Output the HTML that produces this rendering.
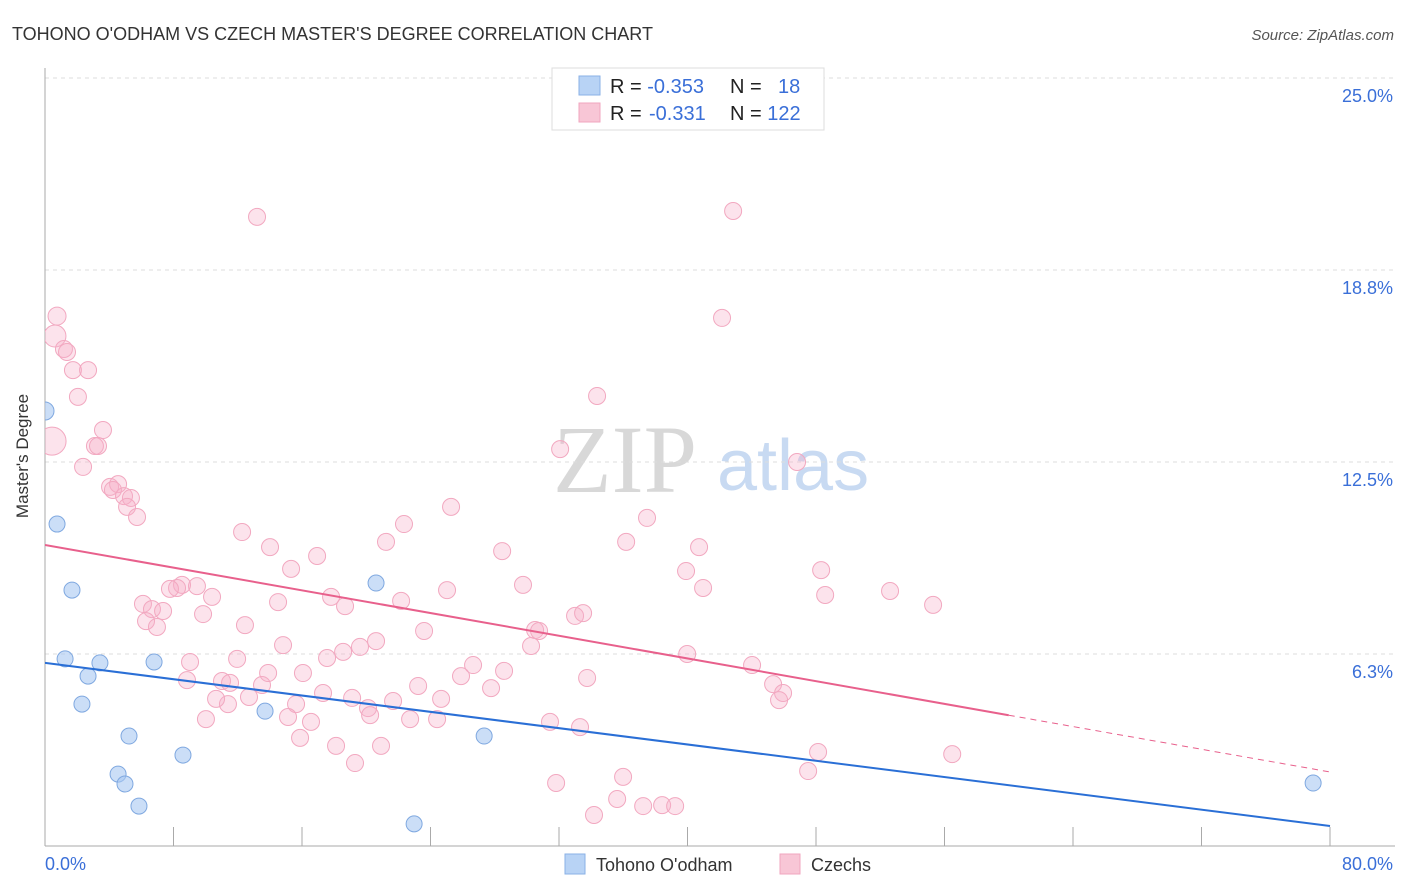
<!DOCTYPE html>
<html><head><meta charset="utf-8"><style>
body{margin:0;background:#fff;font-family:"Liberation Sans",sans-serif;}
svg{display:block}
</style></head><body>
<svg id="chart" width="1406" height="892" xmlns="http://www.w3.org/2000/svg">
<text x="12" y="40" font-size="18" fill="#333">TOHONO O'ODHAM VS CZECH MASTER'S DEGREE CORRELATION CHART</text>
<text x="1394" y="40" font-size="15" fill="#555" font-style="italic" text-anchor="end">Source: ZipAtlas.com</text>
<g>
<text x="553" y="492" font-size="96" font-family="Liberation Serif,serif" fill="#d8d8d8">ZIP</text>
<text x="717" y="490" font-size="72" fill="#c8daf2">atlas</text>
</g>
<g id="grid"></g>
<g id="axes"></g>
<g id="marks"></g>
<text x="28" y="456" font-size="17" fill="#333" text-anchor="middle" transform="rotate(-90 28 456)">Master's Degree</text>
<g>
<rect x="552" y="68" width="272" height="62" fill="#fff" stroke="#ddd"/>
<rect x="579" y="76" width="21" height="19" fill="#b8d3f5" stroke="#8ab0e6"/>
<rect x="579" y="103" width="21" height="19" fill="#f8c6d6" stroke="#f0a6bf"/>
<text x="610" y="93" font-size="20" fill="#222">R = <tspan fill="#3a6fd8">-0.353</tspan></text>
<text x="730" y="93" font-size="20" fill="#222">N = <tspan x="778" fill="#3a6fd8">18</tspan></text>
<text x="610" y="120" font-size="20" fill="#222">R = <tspan x="649" fill="#3a6fd8">-0.331</tspan></text>
<text x="730" y="120" font-size="20" fill="#222">N = <tspan fill="#3a6fd8">122</tspan></text>
</g>
<g>
<rect x="565" y="854" width="20" height="20" fill="#b8d3f5" stroke="#8ab0e6"/>
<text x="596" y="871" font-size="18" fill="#333">Tohono O'odham</text>
<rect x="780" y="854" width="20" height="20" fill="#f8c6d6" stroke="#f0a6bf"/>
<text x="811" y="871" font-size="18" fill="#333">Czechs</text>
</g>
</svg>
<script>
const xTicks=[0,8,16,24,32,40,48,56,64,72,80];
const yTicks=[6.25,12.5,18.75,25];
const yTickLabels=["6.3%","12.5%","18.8%","25.0%"];
const blueX=[0,0.75,1.68,1.25,2.68,3.42,2.30,5.23,4.55,4.98,5.85,6.79,8.59,13.70,20.61,27.34,22.98,78.95];
const blueY=[14.16,10.48,8.33,6.09,5.53,5.96,4.62,3.58,2.34,2.02,1.30,5.99,2.96,4.39,8.56,3.58,0.72,2.05];
const pinkX=[0.75,0.62,0.44,1.18,1.37,1.74,2.68,2.05,3.61,3.11,3.30,2.37,4.05,4.55,4.23,4.92,5.35,5.11,5.73,12.27,13.20,14.01,15.32,16.94,21.23,22.35,25.28,28.46,32.07,34.37,36.18,37.48,40.72,39.91,40.97,42.15,42.84,46.82,48.32,48.57,52.61,55.29,29.76,25.03,22.17,18.68,17.81,14.51,10.40,9.46,8.53,8.22,7.78,6.10,6.66,7.35,9.84,6.29,6.97,12.45,14.82,20.61,19.61,23.60,30.51,30.76,30.26,33.00,33.50,39.98,44.02,45.33,45.95,45.70,9.03,8.84,11.02,11.52,11.96,13.51,13.89,16.06,17.56,18.56,25.90,26.65,28.58,27.77,33.75,23.23,24.66,17.31,19.12,21.67,20.11,20.24,15.63,11.39,10.65,12.70,10.02,15.13,16.56,22.73,24.41,31.44,33.31,15.88,18.12,20.92,19.30,31.82,34.18,35.62,35.99,37.24,38.42,39.23,48.13,47.51,56.48];
const pinkY=[17.25,16.60,13.18,16.18,16.08,15.49,15.49,14.62,13.54,13.02,13.02,12.34,11.69,11.78,11.59,11.39,11.33,11.04,10.71,10.22,20.48,9.73,9.02,9.44,9.90,10.48,11.04,9.60,12.92,14.65,9.90,10.68,9.73,8.95,8.40,17.19,20.67,12.50,8.98,8.17,8.30,7.85,8.50,8.33,7.98,7.81,8.11,7.94,8.11,8.46,8.50,8.40,8.37,7.88,7.71,7.65,7.55,7.32,7.13,7.19,6.54,6.67,6.48,7.00,7.03,7.00,6.51,7.49,7.58,6.25,5.89,5.27,4.98,4.75,5.99,5.40,5.37,5.31,6.09,5.24,5.63,5.63,6.12,6.32,5.53,5.89,5.70,5.14,5.47,5.21,4.79,4.98,4.82,4.72,4.49,4.26,4.62,4.62,4.79,4.85,4.13,4.20,4.04,4.13,4.13,4.04,3.87,3.52,3.26,3.26,2.70,2.05,1.01,1.53,2.25,1.30,1.33,1.30,3.06,2.44,2.99];
const pinkBig={2:14,1:11,0:9};
const blueTrend=[5.96,0.65];
const pinkTrend=[9.80,2.41];
const pinkSolidEnd=60;

const X=v=>45+v/80*1285;
const Y=v=>846-v/25*768;
const NS="http://www.w3.org/2000/svg";
function mk(parent,tag,attrs){const e=document.createElementNS(NS,tag);for(const k in attrs)e.setAttribute(k,attrs[k]);document.getElementById(parent).appendChild(e);return e;}

yTicks.forEach((t,i)=>{
 const g=mk('grid','line',{x1:45,x2:1395,y1:Y(t),y2:Y(t),stroke:'#ddd','stroke-dasharray':'4,4'});
 
 
 const l=mk('axes','text',{x:1393,y:Y(t)+24,'font-size':18,fill:'#3a6fd8','text-anchor':'end'});
 l.textContent=yTickLabels[i];
 
 
});
const ya=mk('axes','line',{x1:45,x2:45,y1:68,y2:846,stroke:'#aaa'});


const xa=mk('axes','line',{x1:45,x2:1395,y1:846,y2:846,stroke:'#aaa'});


xTicks.forEach(t=>{
 const tk=mk('axes','line',{x1:X(t),x2:X(t),y1:827,y2:846,stroke:'#aaa'});
 
 
});
const xl0=mk('axes','text',{x:45,y:870,'font-size':18,fill:'#3a6fd8'});
xl0.textContent=xTicks[0].toFixed(1)+'%';


const xl1=mk('axes','text',{x:1393,y:870,'font-size':18,fill:'#3a6fd8','text-anchor':'end'});
xl1.textContent=xTicks[xTicks.length-1].toFixed(1)+'%';



mk('marks','clipPath',{id:'clp'});
const cr=document.createElementNS(NS,'rect');cr.setAttribute('x',45);cr.setAttribute('y',60);cr.setAttribute('width',1360);cr.setAttribute('height',786);
document.getElementById('clp').appendChild(cr);
const mg=mk('marks','g',{'clip-path':'url(#clp)',id:'mg'});
pinkX.forEach((x,i)=>{
 const c=mk('mg','circle',{cx:X(x),cy:Y(pinkY[i]),r:pinkBig[i]||8.5,fill:'rgba(246,176,200,0.35)',stroke:'#f2a8c0','stroke-width':1});
 
 
});
blueX.forEach((x,i)=>{
 const c=mk('mg','circle',{cx:X(x),cy:Y(blueY[i]),r:i===0?9:8,fill:'rgba(168,200,242,0.6)',stroke:'#7fa8e0','stroke-width':1});
 
 
});
const pAt=x=>pinkTrend[0]+(pinkTrend[1]-pinkTrend[0])*x/80;
const bt=mk('mg','line',{x1:X(0),y1:Y(blueTrend[0]),x2:X(80),y2:Y(blueTrend[1]),stroke:'#2a6fd6','stroke-width':2});


const pt=mk('mg','line',{x1:X(0),y1:Y(pinkTrend[0]),x2:X(pinkSolidEnd),y2:Y(pAt(pinkSolidEnd)),stroke:'#e8608c','stroke-width':2});


const pd=mk('mg','line',{x1:X(pinkSolidEnd),y1:Y(pAt(pinkSolidEnd)),x2:X(80),y2:Y(pinkTrend[1]),stroke:'#e8608c','stroke-width':1,'stroke-dasharray':'6,5'});


</script>
</body></html>
